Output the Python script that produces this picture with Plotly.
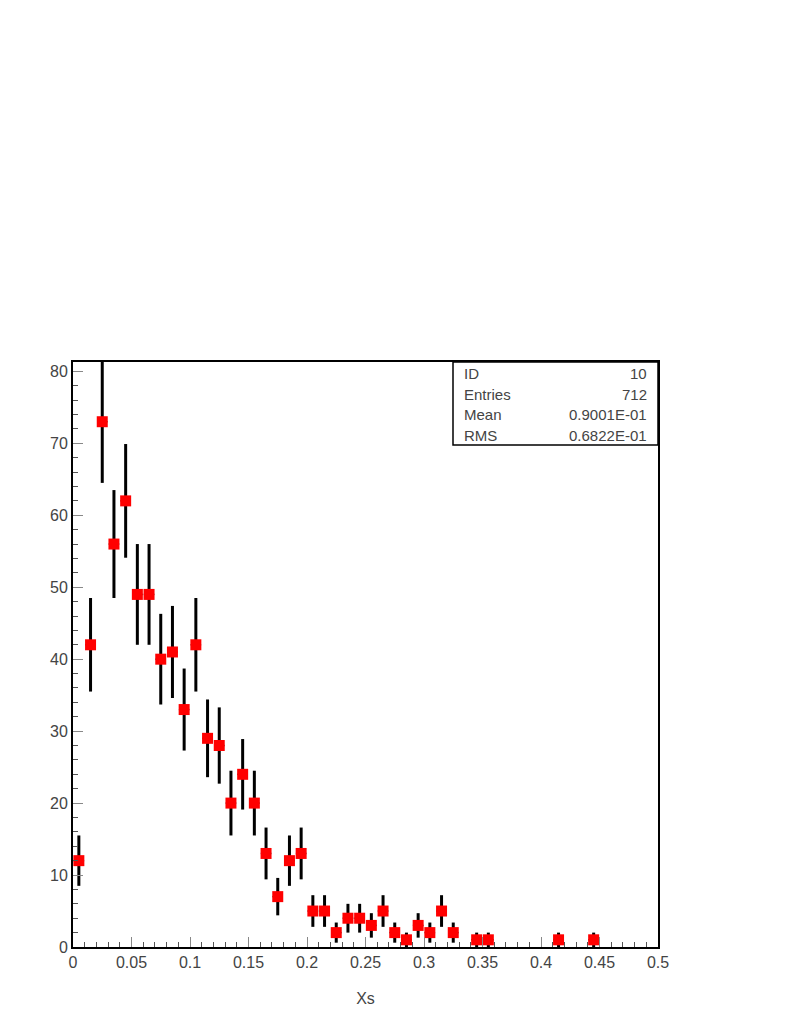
import plotly.graph_objects as go

# Histogram "Xs" (ID 10), bin width 0.01, non-empty bins only
bin_centers = [0.005, 0.015, 0.025, 0.035, 0.045, 0.055, 0.065, 0.075, 0.085, 0.095,
               0.105, 0.115, 0.125, 0.135, 0.145, 0.155, 0.165, 0.175, 0.185, 0.195,
               0.205, 0.215, 0.225, 0.235, 0.245, 0.255, 0.265, 0.275, 0.285, 0.295,
               0.305, 0.315, 0.325, 0.345, 0.355, 0.415, 0.445]
counts = [12, 42, 73, 56, 62, 49, 49, 40, 41, 33,
          42, 29, 28, 20, 24, 20, 13, 7, 12, 13,
          5, 5, 2, 4, 4, 3, 5, 2, 1, 3,
          2, 5, 2, 1, 1, 1, 1]
errors = [3.5, 6.5, 8.5, 7.5, 7.9, 7.0, 7.0, 6.3, 6.4, 5.7,
          6.5, 5.4, 5.3, 4.5, 4.9, 4.5, 3.6, 2.6, 3.5, 3.6,
          2.2, 2.2, 1.4, 2.0, 2.0, 1.7, 2.2, 1.4, 1.0, 1.7,
          1.4, 2.2, 1.4, 1.0, 1.0, 1.0, 1.0]

stats_labels = ["ID", "Entries", "Mean", "RMS"]
stats_values = ["10", "712", "0.9001E-01", "0.6822E-01"]

x_title = "Xs"

FONT = "Liberation Sans"
TXT = "#444444"

fig = go.Figure()
fig.add_trace(go.Scatter(
    x=bin_centers, y=counts,
    mode="markers",
    marker=dict(symbol="square", size=11, color="#ff0000", line=dict(width=0)),
    error_y=dict(type="data", array=errors, visible=True, color="black",
                 thickness=3, width=0),
    error_x=dict(type="constant", value=0.0045, visible=True, color="black",
                 thickness=1.5, width=0),
    showlegend=False,
))

axis_common = dict(
    showline=True, linecolor="black", linewidth=2, mirror=True,
    showgrid=False, zeroline=False,
    ticks="inside", ticklen=10, tickwidth=1, tickcolor="#888888",
    tickfont=dict(family=FONT, size=16, color=TXT),
)

fig.update_xaxes(
    range=[0, 0.5], dtick=0.05, tick0=0,
    minor=dict(ticks="inside", ticklen=5, dtick=0.01, tickcolor="#555555", tickwidth=1),
    title=dict(text=x_title, font=dict(family=FONT, size=16, color=TXT), standoff=23),
    **axis_common,
)
fig.update_yaxes(
    range=[0, 81.3], dtick=10, tick0=0,
    minor=dict(ticks="inside", ticklen=5, dtick=2, tickcolor="#555555", tickwidth=1),
    **axis_common,
)

# Stats box
x0 = (453 - 73) / 585
y0 = (947 - 445) / 585
fig.add_shape(type="rect", xref="paper", yref="paper", x0=x0, x1=1, y0=y0, y1=1,
              line=dict(color="black", width=1.5), fillcolor="white", layer="above")
row_y = [(947 - 373) / 585, (947 - 394) / 585, (947 - 414) / 585, (947 - 435) / 585]
for lab, val, yy in zip(stats_labels, stats_values, row_y):
    fig.add_annotation(xref="paper", yref="paper", x=(462 - 73) / 585, y=yy,
                       text=lab, showarrow=False, xanchor="left", yanchor="middle",
                       font=dict(family=FONT, size=15, color=TXT))
    fig.add_annotation(xref="paper", yref="paper", x=(649 - 73) / 585, y=yy,
                       text=val, showarrow=False, xanchor="right", yanchor="middle",
                       font=dict(family=FONT, size=15, color=TXT))

fig.update_layout(
    width=789, height=1021,
    margin=dict(l=65, r=139, t=354, b=82),
    paper_bgcolor="white", plot_bgcolor="white",
)

fig.write_html("out.html")
